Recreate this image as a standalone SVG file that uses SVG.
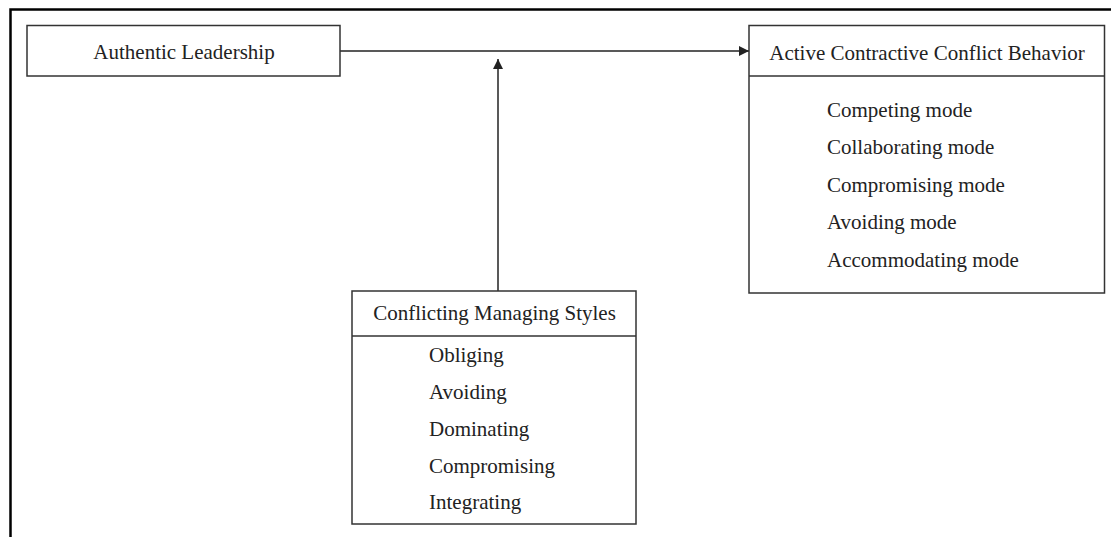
<svg xmlns="http://www.w3.org/2000/svg" width="1111" height="537" viewBox="0 0 1111 537">
<style>
  text { font-family: "Liberation Serif", "Times New Roman", serif; font-size: 21px; fill: #222; }
  .box { fill: #fff; stroke: #333; stroke-width: 1.5; }
  .div { stroke: #333; stroke-width: 1.5; }
  .conn { stroke: #222; stroke-width: 1.5; fill: none; }
  .mid { text-anchor: middle; }
</style>
<defs>
  <marker id="arr" viewBox="0 0 10 10" refX="10" refY="5" markerWidth="10" markerHeight="10" markerUnits="userSpaceOnUse" orient="auto">
    <path d="M0,0 L10,5 L0,10 Z" fill="#222"/>
  </marker>
</defs>
<rect width="1111" height="537" fill="#fff"/>
<path d="M10.5,537 V9.5 H1111" fill="none" stroke="#000" stroke-width="2.5"/>
<g id="connectors">
  <line class="conn" x1="340" y1="51" x2="749" y2="51" marker-end="url(#arr)"/>
  <line class="conn" x1="498" y1="291" x2="498" y2="59" marker-end="url(#arr)"/>
</g>
<g id="authentic-leadership">
  <rect class="box" x="27" y="25.5" width="313" height="50.5"/>
  <text class="mid" x="184" y="59">Authentic Leadership</text>
</g>
<g id="active-contractive">
  <rect class="box" x="749" y="25.5" width="355.5" height="267.5"/>
  <line class="div" x1="749" y1="76" x2="1104.5" y2="76"/>
  <text class="mid" x="927" y="60">Active Contractive Conflict Behavior</text>
  <text x="827" y="117">Competing mode</text>
  <text x="827" y="154">Collaborating mode</text>
  <text x="827" y="192">Compromising mode</text>
  <text x="827" y="229">Avoiding mode</text>
  <text x="827" y="267">Accommodating mode</text>
</g>
<g id="conflicting-managing">
  <rect class="box" x="352" y="291" width="284" height="233"/>
  <line class="div" x1="352" y1="336" x2="636" y2="336"/>
  <text class="mid" x="494.5" y="320">Conflicting Managing Styles</text>
  <text x="429" y="362">Obliging</text>
  <text x="429" y="399">Avoiding</text>
  <text x="429" y="436">Dominating</text>
  <text x="429" y="473">Compromising</text>
  <text x="429" y="509">Integrating</text>
</g>
</svg>
